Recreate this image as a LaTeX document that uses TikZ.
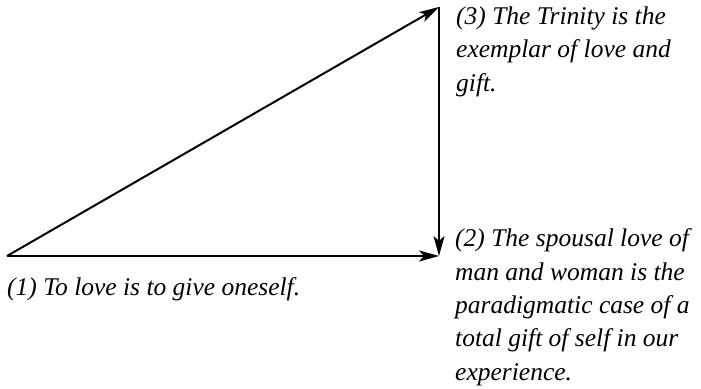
\documentclass[tikz,border=0pt]{standalone}
\usepackage{fontspec}
\setmainfont{Liberation Serif}
\usetikzlibrary{arrows.meta,positioning}
\tikzset{
  gift/.style={-{Stealth[length=20pt,width=11pt,inset=5pt]}, line width=2pt},
  claim/.style={font=\fontsize{25.5}{33.3}\selectfont\itshape, align=left, inner sep=0pt, anchor=base west}
}

\begin{document}
\begin{tikzpicture}[x=1pt,y=-1pt]
  \useasboundingbox (0,0) rectangle (701,388);
  % Corners of the triangle
  \coordinate (self) at (7,256);
  \coordinate (spouse) at (439,256);
  \coordinate (trinity) at (439,7);

  % Claim 1: giving oneself
  \node[claim] (give) at (7,295) {(1) To love is to give oneself.};

  % Claim 2: spousal love (base is the last line)
  \node[claim] (spousal) at (455,380) {(2) The spousal love of\\man and woman is the\\paradigmatic case of a\\total gift of self in our\\experience.};

  % Claim 3: the Trinity
  \node[claim] (exemplar) at (456,91) {(3) The Trinity is the\\exemplar of love and\\gift.};

  % Arrows
  \draw[gift] (self) -- (spouse);
  \draw[gift] (self) -- (trinity);
  \draw[gift] (trinity) -- (spouse);
\end{tikzpicture}
\end{document}
